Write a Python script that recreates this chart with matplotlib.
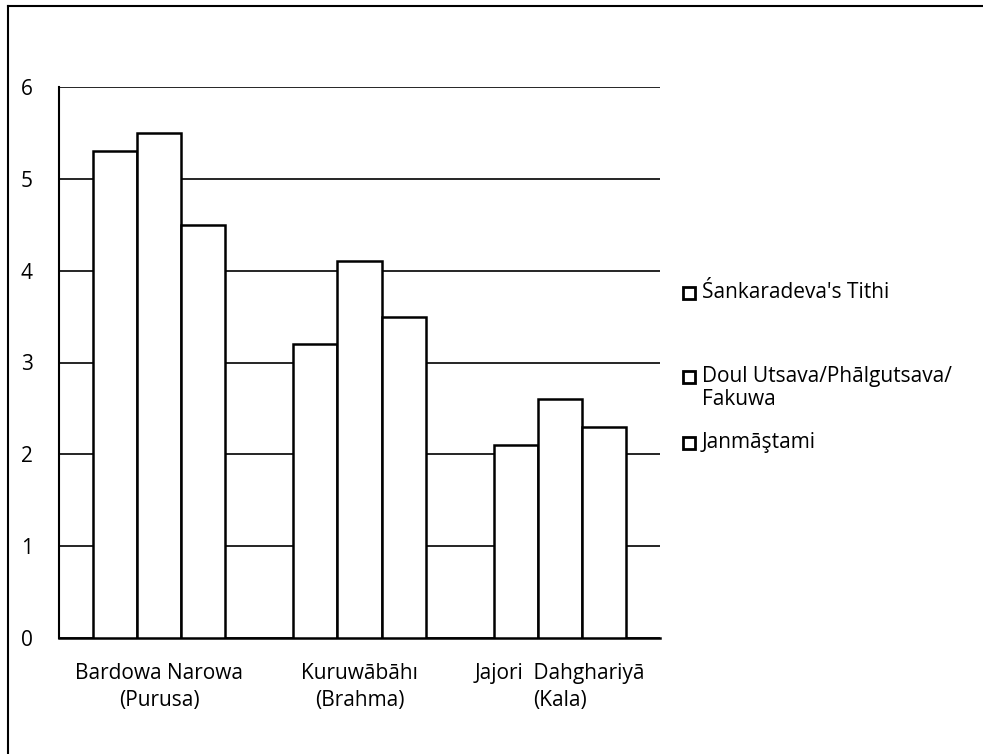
import matplotlib
matplotlib.use("Agg")
import matplotlib.pyplot as plt
import numpy as np
from matplotlib.lines import Line2D

categories = ["Bardowa Narowa\n(Purusa)", "Kuruwābāhı\n(Brahma)", "Jajori  Dahghariyā\n(Kala)"]
series_names = ["Śankaradeva's Tithi", "Doul Utsava/Phālgutsava/\nFakuwa", "Janmāştami"]
tithi = [5.3, 3.2, 2.1]
doul = [5.5, 4.1, 2.6]
janma = [4.5, 3.5, 2.3]
yticks = [0, 1, 2, 3, 4, 5, 6]

plt.rcParams['font.family'] = ['Open Sans', 'DejaVu Sans']

W, H = 983, 754
fig = plt.figure(figsize=(W/100, H/100), dpi=100)
ax = fig.add_axes([59/W, 1-638/H, 601/W, (638-87)/H])

x = np.arange(len(categories))
w = 0.22
for i, vals in enumerate([tithi, doul, janma]):
    ax.bar(x + (i-1)*w, vals, width=w, facecolor='white', edgecolor='black', linewidth=1.8, zorder=3)

ax.set_xlim(-0.5, 2.5)
ax.set_ylim(0, 6)
ax.set_yticks(yticks)
ax.set_yticklabels([str(t) for t in yticks], fontsize=15)
ax.set_xticks(x)
ax.set_xticklabels(categories, fontsize=15, linespacing=1.4)
ax.tick_params(axis='both', length=0)
ax.tick_params(axis='x', pad=18)
ax.tick_params(axis='y', pad=19)
ax.grid(axis='y', color='black', linewidth=1.2, zorder=0)
for s in ['top', 'right']:
    ax.spines[s].set_visible(False)
ax.spines['left'].set_linewidth(1.5)
ax.spines['bottom'].set_linewidth(1.8)

# legend (marker aligned with first line of each entry, as in the reference)
legend_y = [293, 377, 443]
for name, yy in zip(series_names, legend_y):
    fig.add_artist(Line2D([689/W], [1-yy/H], marker='s', markersize=8.5, linestyle='none',
                          markerfacecolor='white', markeredgecolor='black', markeredgewidth=2,
                          transform=fig.transFigure))
    fig.text(702/W, 1-(yy-11)/H, name, fontsize=15, ha='left', va='top', linespacing=1.15)

# outer frame
fig.add_artist(Line2D([8/W, 8/W], [0, 1-6/H], transform=fig.transFigure, color='black', linewidth=1.5))
fig.add_artist(Line2D([8/W, 1], [1-6/H, 1-6/H], transform=fig.transFigure, color='black', linewidth=1.5))

fig.savefig("out.png", dpi=100)
